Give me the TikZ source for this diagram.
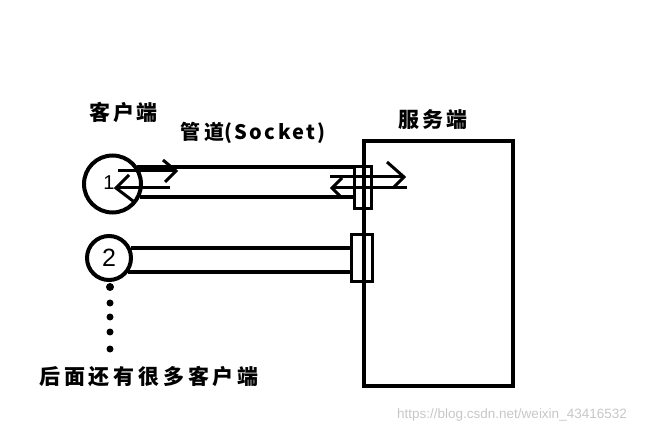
\documentclass[tikz,border=0pt]{standalone}
\usepackage{fontspec}
\newfontfamily\cjk{Noto Sans CJK SC}
\newfontfamily\numfont{Liberation Sans}
\begin{document}
\begin{tikzpicture}[x=1pt,y=-1pt,
  thick line/.style={line width=4pt},
  arrowline/.style={line width=3pt},
  client/.style={circle,draw,line width=4pt,inner sep=0pt},
  sockbox/.style={rectangle,draw,line width=3pt,inner sep=0pt},
  label/.style={font=\cjk\bfseries\fontsize{21}{21}\selectfont\addfontfeature{LetterSpace=12},inner sep=0pt},
  dot/.style={circle,fill,inner sep=0pt}]
\useasboundingbox (0,0) rectangle (657,433);
% server
\node[rectangle,draw,line width=4pt,minimum width=149pt,minimum height=245pt,inner sep=0pt] (server) at (438.5,263.5) {};
\node[label] (serverlbl) at (433,120) {服务端};
% sockets
\node[sockbox,minimum width=17pt,minimum height=42pt] (s1) at (363,187.5) {};
\node[sockbox,minimum width=21pt,minimum height=47pt] (s2) at (362,258) {};
% clients
\node[client,minimum size=57pt] (c1) at (112.5,184) {};
\node[font=\numfont\fontsize{20}{20}\selectfont,inner sep=0pt] (n1) at (109,183) {1};
\node[client,minimum size=44pt] (c2) at (109,258) {};
\node[font=\numfont\fontsize{25}{25}\selectfont,inner sep=0pt] (n2) at (109,258) {2};
\node[label] (clientlbl) at (124,112) {客户端};
\node[font=\cjk\bfseries\fontsize{20}{20}\selectfont,inner sep=0pt] (pipelbl) at (253,133)
  {\addfontfeature{LetterSpace=20}管道\addfontfeature{LetterSpace=12}(Socket)};
% pipe 1
\draw[thick line] (c1.35) -- (c1.35 -| s1.west);
\draw[thick line] (c1.-25) -- (c1.-25 -| s1.west);
% pipe 2
\draw[thick line] (c2.24) -- (c2.24 -| s2.west);
\draw[thick line] (c2.-36) -- (c2.-36 -| s2.west);
% arrows at client 1
\coordinate (la1) at (118,171); \coordinate (la2) at (176,171);
\draw[arrowline] (la1) -- (la2);
\draw[arrowline,line join=miter] (163,160) -- (la2) -- (165,182);
\coordinate (lb1) at (116,188); \coordinate (lb2) at (170,188);
\draw[arrowline] (lb1) -- (lb2);
\draw[arrowline,line join=miter] (129,175) -- (lb1) -- (133,201);
% arrows at server
\coordinate (ra1) at (330,177); \coordinate (ra2) at (404,177);
\draw[arrowline] (ra1) -- (ra2);
\draw[arrowline,line join=miter] (387,162) -- (ra2) -- (393,188);
\coordinate (rb1) at (332,188); \coordinate (rb2) at (407,188);
\draw[arrowline] (rb1) -- (rb2);
\draw[arrowline,line join=miter] (342,178) -- (rb1) -- (342,198);
% dots
\node[dot,minimum size=8pt] (d1) at (110,287) {};
\node[dot,minimum size=7pt] (d2) at (110,303) {};
\node[dot,minimum size=7pt] (d3) at (110,317) {};
\node[dot,minimum size=7pt] (d4) at (110,332) {};
\node[dot,minimum size=7pt] (d5) at (110,349) {};
\node[label,font=\cjk\bfseries\fontsize{21}{21}\selectfont\addfontfeature{LetterSpace=18}] (morelbl) at (149,377) {后面还有很多客户端};
% watermark
\node[font=\numfont\fontsize{13.5}{13.5}\selectfont,text=black!22,inner sep=0pt] (wm) at (512,415) {https://blog.csdn.net/weixin\_43416532};
\end{tikzpicture}
\end{document}
